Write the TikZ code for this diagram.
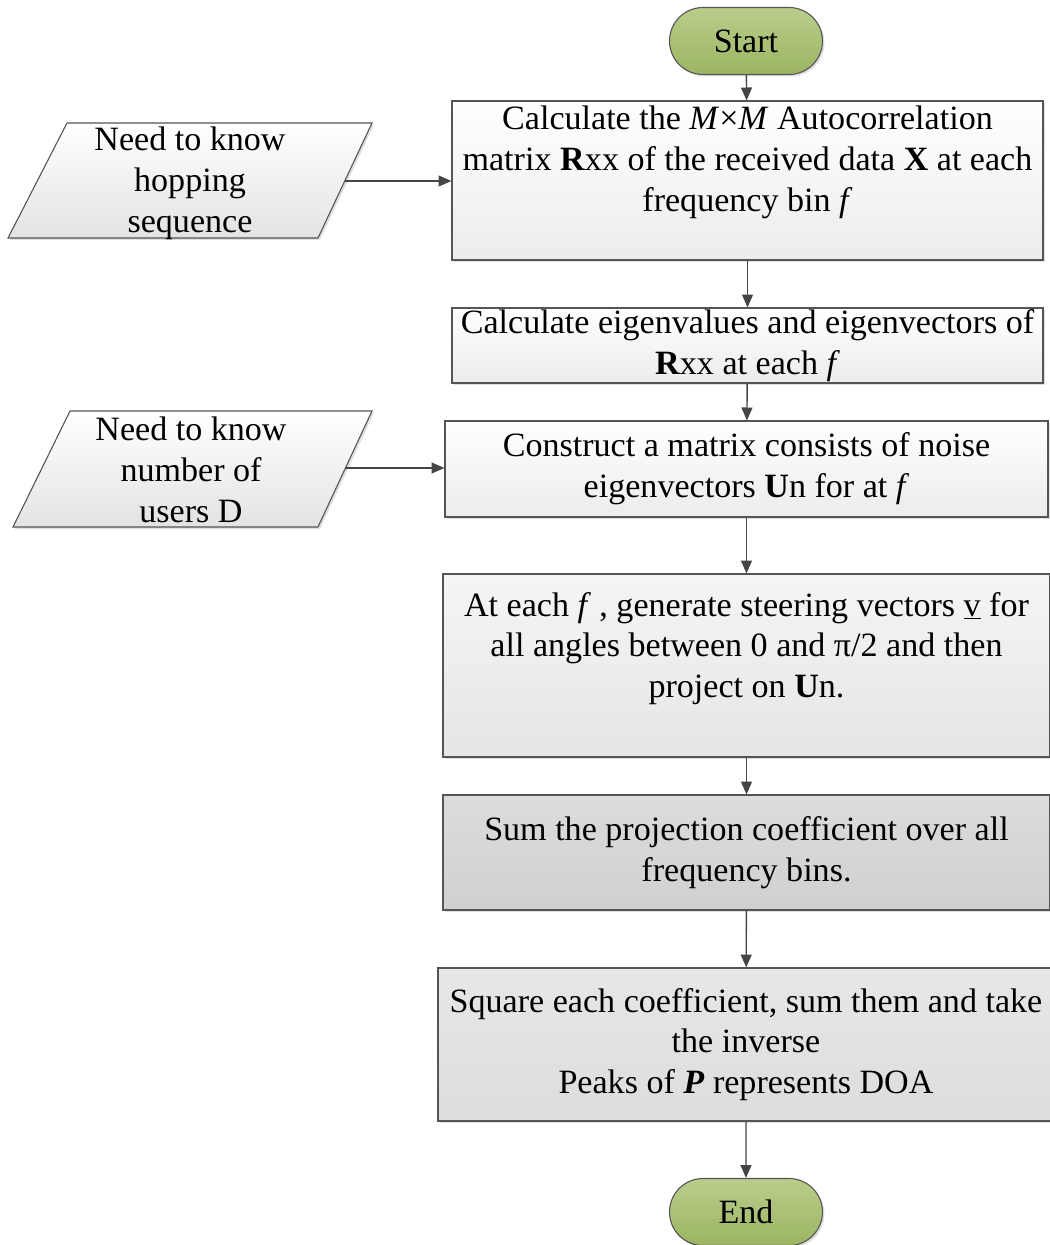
\documentclass[tikz,border=0pt]{standalone}
\usepackage{fontspec}
\setmainfont{Liberation Serif}
\usetikzlibrary{arrows.meta,shapes.misc,shadows}
\definecolor{edgegray}{HTML}{555555}
\definecolor{arrgray}{HTML}{454545}
\definecolor{greentop}{HTML}{B9CD8A}
\definecolor{greenbot}{HTML}{9CB563}
\begin{document}
\begin{tikzpicture}[x=1bp,y=-1bp,
  every node/.style={font=\fontsize{34.2}{41}\selectfont},
  shade/.style={drop shadow={opacity=0.25,shadow xshift=2pt,shadow yshift=-2pt}},
  stepbox/.style={draw=edgegray, line width=1.1pt, align=center, inner sep=0pt, shade},
  termbox/.style={rounded rectangle, draw=edgegray, line width=1.1pt, inner sep=0pt,
     minimum width=153bp, minimum height=67bp, top color=greentop, bottom color=greenbot, shade},
  inbox/.style={draw=edgegray, line width=1.1pt, top color=white, bottom color=gray!22},
  arr/.style={draw=arrgray, line width=1.4pt, -{Triangle[length=13pt,width=11pt]}}]
\useasboundingbox (0,0) rectangle (1050,1245);

% terminators
\node[termbox] (start) at (746,41) {Start};
\node[termbox] (end) at (746,1212) {End};

% process boxes
\node[stepbox, minimum width=591bp, minimum height=159bp,
      top color=white, bottom color=gray!15] (b1) at (747.5,180.5)
  {Calculate the \textit{M}×\textit{M} Autocorrelation\\
   matrix \textbf{R}xx of the received data \textbf{X} at each\\
   frequency bin \textit{f}\\[-10pt] \strut};
\node[stepbox, minimum width=591bp, minimum height=75bp,
      top color=white, bottom color=gray!15] (b2) at (747.5,345.5)
  {Calculate eigenvalues and eigenvectors of\\
   \textbf{R}xx at each \textit{f}};
\node[stepbox, minimum width=603bp, minimum height=96bp,
      top color=white, bottom color=gray!15] (b3) at (746.5,469)
  {Construct a matrix consists of noise\\
   eigenvectors \textbf{U}n for at \textit{f}};
\node[stepbox, minimum width=607bp, minimum height=183bp,
      top color=gray!8, bottom color=gray!20] (b4) at (746.5,665.5)
  {At each \textit{f} , generate steering vectors \underline{v} for\\
   all angles between 0 and π/2 and then\\
   project on \textbf{U}n.\\[-12pt] \strut};
\node[stepbox, minimum width=607bp, minimum height=115bp,
      top color=gray!27, bottom color=gray!37] (b5) at (746.5,852.5)
  {Sum the projection coefficient over all\\
   frequency bins.};
\node[stepbox, minimum width=616bp, minimum height=153bp,
      top color=gray!19, bottom color=gray!27] (b6) at (746,1044.5)
  {Square each coefficient, sum them and take\\
   the inverse\\
   Peaks of \textbf{\textit{P}} represents DOA};

% input parallelograms
\path[inbox, shade] (67,123) -- (372,123) -- (318,238) -- (8,238) -- cycle;
\node[align=center] (p1) at (190,183) {Need to know\\ hopping\\ sequence};
\coordinate (p1r) at (345,181);
\path[inbox, shade] (70,411) -- (372,411) -- (318,527) -- (13,527) -- cycle;
\node[align=center] (p2) at (191,470) {Need to know\\ number of\\ users D};
\coordinate (p2r) at (345,468);

% connectors
\draw[arr] (start) -- (b1);
\draw[arr] (b1) -- (b2);
\draw[arr] (b2) -- (b3);
\draw[arr] (b3) -- (b4);
\draw[arr] (b4) -- (b5);
\draw[arr] (b5) -- (b6);
\draw[arr] (b6) -- (end);
\draw[arr] (p1r) -- (b1.west |- p1r);
\draw[arr] (p2r) -- (b3.west |- p2r);
\end{tikzpicture}
\end{document}
